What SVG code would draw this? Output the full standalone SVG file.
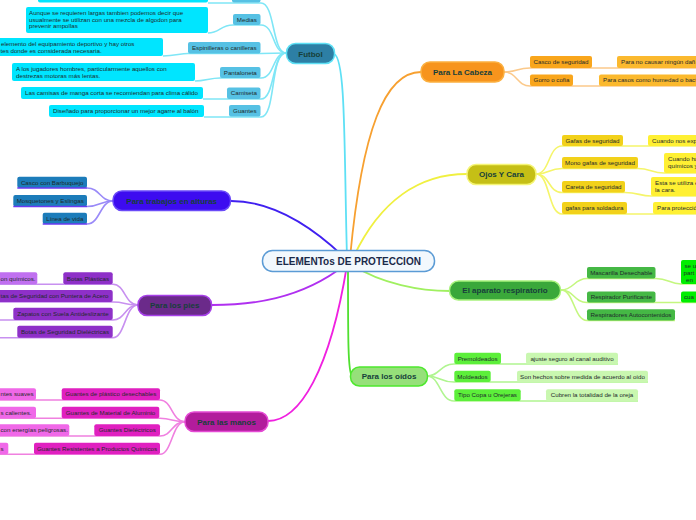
<svg xmlns="http://www.w3.org/2000/svg" width="696" height="520" viewBox="0 0 696 520">
<style>
text{font-family:"Liberation Sans",Arial,sans-serif}
.t{font-size:6.2px;fill:#1e2b2b;text-anchor:middle}
.d{font-size:6.2px;fill:#1e2b2b}
.b{font-size:8px;font-weight:bold;fill:#173f3a;text-anchor:middle}
.ln{fill:none;stroke-width:1.6}
.mn{fill:none;stroke-width:1.8}
</style>
<rect width="696" height="520" fill="#ffffff"/>
<g id="connectors">
  <path class="mn" stroke="#5ee0f5" d="M347,258 C344,150 346,58 334,54"/>
  <path class="mn" stroke="#f7a030" d="M350,258 C362,130 385,72 421,72"/>
  <path class="mn" stroke="#f0f040" d="M353,258 C380,200 420,174 467,174"/>
  <path class="mn" stroke="#4020f0" d="M345,258 C300,215 262,201 231,201"/>
  <path class="mn" stroke="#b030f0" d="M345,265 C300,300 250,305 212,305"/>
  <path class="mn" stroke="#f020e0" d="M347,265 C330,370 300,421 268,421"/>
  <path class="mn" stroke="#50e030" d="M348,265 C348,340 348,372 352,376"/>
  <path class="mn" stroke="#a0f060" d="M352,265 C382,284 420,291 450,291"/>
  <path class="ln" stroke="#7fe6f6" d="M286,53 C272,53 275,3 261,3 L232,3 L208,3"/>
  <path class="ln" stroke="#7fe6f6" d="M286,53 C272,53 275,25 261,25 L233,25 C220,25 220,33 208,33"/>
  <path class="ln" stroke="#7fe6f6" d="M286,53 L261,53.5 L188,53.5 C180,53.5 175,56 163,56"/>
  <path class="ln" stroke="#7fe6f6" d="M286,53 C272,53 275,78 261,78 L220,78 C210,78 205,81 195,81"/>
  <path class="ln" stroke="#7fe6f6" d="M286,53 C272,53 275,99 261,99 L203,99"/>
  <path class="ln" stroke="#7fe6f6" d="M286,53 C270,53 276,117 261,117 L204,117"/>
  <path class="ln" stroke="#fbc98a" d="M504,72 C517,72 517,68 530,68 L700,68"/>
  <path class="ln" stroke="#fbc98a" d="M504,72 C517,72 517,86 530,86 L700,86"/>
  <path class="ln" stroke="#f5f56a" d="M536,174 C550,174 548,146 562,146 L700,146"/>
  <path class="ln" stroke="#f5f56a" d="M536,174 C550,174 548,168.5 562,168.5 L638,168.5 C650,168.5 652,173 664,173 L700,173"/>
  <path class="ln" stroke="#f5f56a" d="M536,174 C550,174 548,192.5 562,192.5 L625,192.5 C638,192.5 640,196 651,196 L700,196"/>
  <path class="ln" stroke="#f5f56a" d="M536,174 C550,174 548,214 562,214 L700,214"/>
  <path class="ln" stroke="#c4f77f" d="M561,290 C574,290 574,278.5 587,278.5 L656,278.5 C668,278.5 670,284 681,284 L700,284"/>
  <path class="ln" stroke="#c4f77f" d="M561,290 C574,290 574,302.5 587,302.5 L700,302.5"/>
  <path class="ln" stroke="#c4f77f" d="M561,290 C574,290 574,320.5 587,320.5 L675,320.5"/>
  <path class="ln" stroke="#b0f590" d="M427,376 C440,376 440,364 454,364 L618,364"/>
  <path class="ln" stroke="#b0f590" d="M427,376 C440,376 440,382 454,382 L648,382"/>
  <path class="ln" stroke="#b0f590" d="M427,376 C440,376 440,401 454,401 L638,401"/>
  <path class="ln" stroke="#9a8af8" d="M113,201 C100,201 100,188 87,188"/>
  <path class="ln" stroke="#9a8af8" d="M113,201 C100,201 100,206.5 87,206.5"/>
  <path class="ln" stroke="#9a8af8" d="M113,201 C100,201 100,224 87,224"/>
  <path class="ln" stroke="#c890f0" d="M138,305 C125,305 125,284.3 113,284.3 L-5,284.3"/>
  <path class="ln" stroke="#c890f0" d="M138,305 C125,305 125,302 113,302 L-5,302"/>
  <path class="ln" stroke="#c890f0" d="M138,305 C125,305 125,320 113,320 L-5,320"/>
  <path class="ln" stroke="#c890f0" d="M138,305 C125,305 125,337.7 113,337.7 L-5,337.7"/>
  <path class="ln" stroke="#f080e0" d="M185,421.7 C172,421.7 172,400 160,400 L-5,400"/>
  <path class="ln" stroke="#f080e0" d="M185,421.7 C172,421.7 172,418.3 160,418.3 L-5,418.3"/>
  <path class="ln" stroke="#f080e0" d="M185,421.7 C172,421.7 172,436 160,436 L-5,436"/>
  <path class="ln" stroke="#f080e0" d="M185,421.7 C172,421.7 172,454.3 160,454.3 L-5,454.3"/>
</g>

<g id="central">
  <rect x="262.5" y="250.5" width="172" height="21" rx="10" fill="#f2f8fd" stroke="#5b9bd5" stroke-width="1.5"/>
  <text x="348.5" y="264.6" style="font-size:10px;font-weight:bold;fill:#1b2a4a;text-anchor:middle">ELEMENTos DE PROTECCION</text>
</g>

<g id="futbol">
  <rect x="286.5" y="43.5" width="48" height="20" rx="9" fill="#2d7fa5" stroke="#5ee0f5" stroke-width="1.5"/>
  <text class="b" x="310.5" y="56.5">Futbol</text>
</g>
<g id="futbol-top">
  <rect x="232" y="-10" width="28.5" height="12.5" rx="2" fill="#56c1e4"/>
  <rect x="38" y="-10" width="170" height="12.5" rx="2" fill="#00e5ff"/>
</g>
<g id="medias">
  <rect x="233" y="14" width="27.5" height="11" rx="2" fill="#56c1e4"/>
  <text class="t" x="246.8" y="21.6">Medias</text>
  <rect x="26" y="7" width="182" height="26" rx="2" fill="#00e5ff"/>
  <text class="d" x="29" y="15">Aunque se requieren largas tambien podemos decir que</text>
  <text class="d" x="29" y="21.6">usualmente se utilizan con una mezcla de algodon para</text>
  <text class="d" x="29" y="28.2">prevenir ampollas</text>
</g>
<g id="espinilleras">
  <rect x="188" y="42" width="72.5" height="11.5" rx="2" fill="#56c1e4"/>
  <text class="t" x="224.3" y="50">Espinilleras o canilleras</text>
  <rect x="-5" y="38" width="168" height="18" rx="2" fill="#00e5ff"/>
  <text class="d" x="1" y="45.6">elemento del equipamiento deportivo y hay otros</text>
  <text class="d" x="0.5" y="53.2">tes donde es considerada necesaria.</text>
</g>
<g id="pantaloneta">
  <rect x="220" y="67" width="40.5" height="11" rx="2" fill="#56c1e4"/>
  <text class="t" x="240.3" y="74.6">Pantaloneta</text>
  <rect x="12" y="63" width="183" height="18" rx="2" fill="#00e5ff"/>
  <text class="d" x="16" y="70.6">A los jugadores hombres, particularmente aquellos con</text>
  <text class="d" x="16" y="77.6">destrezas motoras más lentas.</text>
</g>
<g id="camiseta">
  <rect x="227" y="87.5" width="33.5" height="11.5" rx="2" fill="#56c1e4"/>
  <text class="t" x="243.8" y="95.3">Camiseta</text>
  <rect x="21" y="87" width="182" height="12" rx="2" fill="#00e5ff"/>
  <text class="d" x="25" y="95.2">Las camisas de manga corta se recomiendan para clima cálido</text>
</g>
<g id="guantes">
  <rect x="229" y="105" width="31.5" height="11.5" rx="2" fill="#56c1e4"/>
  <text class="t" x="244.8" y="112.9">Guantes</text>
  <rect x="49" y="105" width="155" height="12" rx="2" fill="#00e5ff"/>
  <text class="d" x="53" y="113.2">Diseñado para proporcionar un mejor agarre al balón</text>
</g>

<g id="cabeza">
  <rect x="421" y="62" width="83" height="20" rx="9" fill="#f7941d" stroke="#fbb040" stroke-width="1.5"/>
  <text class="b" x="462.5" y="74.8">Para La Cabeza</text>
</g>
<g id="casco-seguridad">
  <rect x="530" y="56" width="62" height="12" rx="2" fill="#f9a61c"/>
  <text class="t" x="561" y="64.2">Casco de seguridad</text>
  <rect x="617" y="56" width="90" height="12" rx="2" fill="#fbb92e"/>
  <text class="d" x="621" y="64.2">Para no causar ningún dañ</text>
</g>
<g id="gorro">
  <rect x="530" y="74.5" width="43" height="11.5" rx="2" fill="#f9a61c"/>
  <text class="t" x="551.5" y="82.4">Gorro o cofia</text>
  <rect x="599" y="74.5" width="110" height="11.5" rx="2" fill="#fbb92e"/>
  <text class="d" x="603" y="82.4">Para casos como humedad o bacte</text>
</g>

<g id="ojos">
  <rect x="467" y="164.5" width="69" height="20" rx="9" fill="#c5bf16" stroke="#f5f576" stroke-width="1.5"/>
  <text class="b" x="501.5" y="177.3">Ojos Y Cara</text>
</g>
<g id="gafas">
  <rect x="562" y="135" width="61" height="11" rx="2" fill="#f2d11a"/>
  <text class="t" x="592.5" y="142.6">Gafas de seguridad</text>
  <rect x="648" y="135" width="60" height="11" rx="2" fill="#fff033"/>
  <text class="d" x="652" y="142.6">Cuando nos exp</text>
</g>
<g id="monogafas">
  <rect x="562" y="157" width="76" height="11.5" rx="2" fill="#f2d11a"/>
  <text class="t" x="600" y="164.9">Mono gafas de seguridad</text>
  <rect x="664" y="153" width="40" height="20" rx="2" fill="#fff033"/>
  <text class="d" x="668" y="161">Cuando ha</text>
  <text class="d" x="668" y="168">químicos y</text>
</g>
<g id="careta">
  <rect x="562" y="181" width="63" height="11.5" rx="2" fill="#f2d11a"/>
  <text class="t" x="593.5" y="188.9">Careta de seguridad</text>
  <rect x="651" y="177" width="50" height="19" rx="2" fill="#fff033"/>
  <text class="d" x="655" y="184.8">Esta se utiliza e</text>
  <text class="d" x="655" y="191.6">la cara.</text>
</g>
<g id="soldadura">
  <rect x="562" y="202" width="65" height="12" rx="2" fill="#f2d11a"/>
  <text class="t" x="594.5" y="210.2">gafas para soldadura</text>
  <rect x="653" y="202" width="50" height="12" rx="2" fill="#fff033"/>
  <text class="d" x="657" y="210.2">Para protecció</text>
</g>

<g id="respiratorio">
  <rect x="449.5" y="281" width="111" height="19" rx="9" fill="#3aa83a" stroke="#a8f27c" stroke-width="1.5"/>
  <text class="b" x="505" y="293.3">El aparato respiratorio</text>
</g>
<g id="mascarilla">
  <rect x="587" y="267" width="68.5" height="11.5" rx="2" fill="#45b845"/>
  <text class="t" x="621.3" y="274.9">Mascarilla Desechable</text>
  <rect x="681" y="260" width="30" height="24" rx="2" fill="#00ee00"/>
  <text class="d" x="684.5" y="268">se u</text>
  <text class="d" x="683.5" y="275.2">part</text>
  <text class="d" x="686" y="281.5">en</text>
</g>
<g id="purificante">
  <rect x="587" y="291.5" width="68.5" height="11" rx="2" fill="#45b845"/>
  <text class="t" x="621.3" y="299.1">Respirador Purificante</text>
  <rect x="681" y="291.5" width="30" height="11" rx="2" fill="#00ee00"/>
  <text class="d" x="684" y="299.1">cua</text>
</g>
<g id="autocontenidos">
  <rect x="587" y="309.3" width="88" height="11.2" rx="2" fill="#45b845"/>
  <text class="t" x="631" y="317">Respiradores Autocontenidos</text>
</g>

<g id="oidos">
  <rect x="350.5" y="367" width="77" height="19" rx="9" fill="#96e07a" stroke="#4ee82e" stroke-width="1.5"/>
  <text class="b" x="389" y="379.4">Para los oídos</text>
</g>
<g id="premoldeados">
  <rect x="454.3" y="352.7" width="46.7" height="11.3" rx="2" fill="#5cef3a"/>
  <text class="t" x="477.6" y="360.5">Premoldeados</text>
  <rect x="526" y="352.7" width="92" height="11.3" rx="2" fill="#c9f7b0"/>
  <text class="t" x="572" y="360.5">ajuste seguro al canal auditivo</text>
</g>
<g id="moldeados">
  <rect x="454.3" y="370.7" width="36.4" height="11.3" rx="2" fill="#5cef3a"/>
  <text class="t" x="472.5" y="378.5">Moldeados</text>
  <rect x="517" y="370.7" width="131" height="11.3" rx="2" fill="#c9f7b0"/>
  <text class="t" x="582.5" y="378.5">Son hechos sobre medida de acuerdo al oído</text>
</g>
<g id="copa">
  <rect x="454.3" y="389.3" width="66.4" height="11.7" rx="2" fill="#5cef3a"/>
  <text class="t" x="487.5" y="397.3">Tipo Copa u Orejeras</text>
  <rect x="546" y="389.3" width="92" height="11.7" rx="2" fill="#c9f7b0"/>
  <text class="t" x="592" y="397.3">Cubren la totalidad de la oreja</text>
</g>

<g id="alturas">
  <rect x="113" y="191" width="117.5" height="19.5" rx="9" fill="#3d0cf0" stroke="#6a4af8" stroke-width="1.5"/>
  <text class="b" x="171.7" y="203.5">Para trabajos en alturas</text>
</g>
<g id="barbuquejo">
  <rect x="17.3" y="176.7" width="69.7" height="11.3" rx="2" fill="#1c7cba"/>
  <line x1="17.3" y1="188" x2="87" y2="188" stroke="#6a3af0" stroke-width="1.5"/>
  <text class="t" x="52.2" y="184.5">Casco con Barbuquejo</text>
</g>
<g id="mosquetones">
  <rect x="13.3" y="195" width="73.7" height="11.5" rx="2" fill="#1c7cba"/>
  <line x1="13.3" y1="206.5" x2="87" y2="206.5" stroke="#6a3af0" stroke-width="1.5"/>
  <text class="t" x="50.2" y="202.9">Mosquetones y Eslingas</text>
</g>
<g id="lineavida">
  <rect x="42.7" y="212.7" width="44.3" height="11.3" rx="2" fill="#1c7cba"/>
  <line x1="42.7" y1="224" x2="87" y2="224" stroke="#6a3af0" stroke-width="1.5"/>
  <text class="t" x="64.8" y="220.5">Línea de vida</text>
</g>

<g id="pies">
  <rect x="138" y="295.5" width="73.5" height="20" rx="9" fill="#6b2a8a" stroke="#a640e8" stroke-width="1.5"/>
  <text class="b" x="174.7" y="308.3">Para los pies</text>
</g>
<g id="botasplasticas">
  <rect x="63.3" y="272.3" width="49.4" height="12" rx="2" fill="#8e30c8"/>
  <text class="t" x="88" y="280.5">Botas Plásticas</text>
  <rect x="-5" y="272.3" width="42.3" height="12" rx="2" fill="#c070f0"/>
  <text class="d" x="0.5" y="280.5">on químicos.</text>
</g>
<g id="puntera">
  <rect x="-10" y="290" width="122.7" height="12" rx="2" fill="#8e30c8"/>
  <text class="d" x="0.5" y="298.2">tas de Seguridad con Puntera de Acero</text>
</g>
<g id="zapatos">
  <rect x="13.3" y="307.7" width="99.4" height="12.3" rx="2" fill="#8e30c8"/>
  <text class="t" x="63" y="316">Zapatos con Suela Antideslizante</text>
</g>
<g id="dielectricas">
  <rect x="17.3" y="325.7" width="95.4" height="12" rx="2" fill="#8e30c8"/>
  <text class="t" x="65" y="333.9">Botas de Seguridad Dieléctricas</text>
</g>

<g id="manos">
  <rect x="185" y="412" width="83" height="19.5" rx="9" fill="#b21c9c" stroke="#e44ad4" stroke-width="1.5"/>
  <text class="b" x="226.5" y="424.6">Para las manos</text>
</g>
<g id="plastico">
  <rect x="61.7" y="388.3" width="98.3" height="11.7" rx="2" fill="#e020c0"/>
  <text class="t" x="110.8" y="396.3">Guantes de plástico desechables</text>
  <rect x="-5" y="388.3" width="41" height="11.7" rx="2" fill="#f068e8"/>
  <text class="d" x="0.5" y="396.3">ntes suaves</text>
</g>
<g id="aluminio">
  <rect x="61.7" y="406.7" width="97.6" height="11.6" rx="2" fill="#e020c0"/>
  <text class="t" x="110.5" y="414.7">Guantes de Material de Aluminio</text>
  <rect x="-5" y="406.7" width="41" height="11.6" rx="2" fill="#f068e8"/>
  <text class="d" x="0.5" y="414.7">s calientes.</text>
</g>
<g id="guantesdielectricos">
  <rect x="94.3" y="424.3" width="65.7" height="11.7" rx="2" fill="#e020c0"/>
  <text class="t" x="127.2" y="432.3">Guantes Dieléctricos</text>
  <rect x="-5" y="424.3" width="74.3" height="11.7" rx="2" fill="#f068e8"/>
  <text class="d" x="0.5" y="432.3">con energías peligrosas.</text>
</g>
<g id="quimicos">
  <rect x="34" y="442.7" width="126" height="11.6" rx="2" fill="#e020c0"/>
  <text class="t" x="97" y="450.7">Guantes Resistentes a Productos Químicos</text>
  <rect x="-5" y="442.7" width="13.3" height="11.6" rx="2" fill="#f068e8"/>
  <text class="d" x="0.5" y="450.7">s</text>
</g>
</svg>
